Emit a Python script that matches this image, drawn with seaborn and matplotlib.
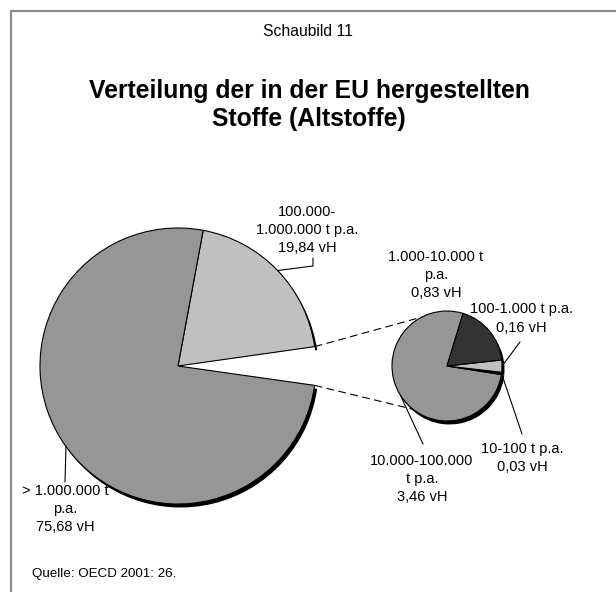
import numpy as np
import matplotlib
matplotlib.use("Agg")
import matplotlib.pyplot as plt
import seaborn as sns

# ---- data ----
main_labels = ["100.000-\n1.000.000 t p.a.\n19,84 vH", "> 1.000.000 t\np.a.\n75,68 vH", "Rest"]
main_values = [19.84, 75.68, 4.48]
main_colors = ["#c0c0c0", "#969696", "white"]

sub_labels = ["10.000-100.000\nt p.a.\n3,46 vH", "10-100 t p.a.\n0,03 vH",
              "100-1.000 t p.a.\n0,16 vH", "1.000-10.000 t\np.a.\n0,83 vH"]
sub_values = [3.46, 0.03, 0.16, 0.83]
sub_colors = ["#969696", "#000000", "#c0c0c0", "#333333"]

title_top = "Schaubild 11"
title_main = "Verteilung der in der EU hergestellten\nStoffe (Altstoffe)"
source = "Quelle: OECD 2001: 26."

W, H = 616, 592
sns.set_theme(style="white")
plt.rcParams['font.family'] = ['Liberation Sans', 'DejaVu Sans']
plt.rcParams['text.color'] = 'black'

fig = plt.figure(figsize=(W / 100, H / 100), dpi=100)
ax = fig.add_axes([0, 0, 1, 1])

def Y(y):
    return H - y

main_c = (178, Y(366)); main_r = 138
sub_c = (447, Y(366)); sub_r = 55
main_start = main_values[2] / sum(main_values) * 360 / 2
sub_start = 73

shadow = (2.5, -3.5)
for (c, r, vals, cols, st, is_main) in [(main_c, main_r, main_values, main_colors, main_start, True),
                                        (sub_c, sub_r, sub_values, sub_colors, sub_start, False)]:
    sw, _ = ax.pie(vals, colors=["black"] * len(vals), startangle=st, radius=r,
                   center=(c[0] + shadow[0], c[1] + shadow[1]),
                   wedgeprops=dict(linewidth=0))
    for s in sw:
        s.set_zorder(1)
    if is_main:
        sw[2].set_visible(False)
    w, _ = ax.pie(vals, colors=cols, startangle=st, radius=r, center=c,
                  wedgeprops=dict(edgecolor="black", linewidth=0.8))
    for s in w:
        s.set_zorder(3)
    if is_main:
        w[2].set_edgecolor("none")
        w[2].set_zorder(2)

def arc_pt(c, r, ang):
    a = np.deg2rad(ang)
    return c[0] + r * np.cos(a), c[1] + r * np.sin(a)

def mid_angles(vals, st):
    tot = sum(vals)
    cum = np.cumsum([0] + list(vals))
    return [st + (cum[i] + cum[i + 1]) / 2 / tot * 360 for i in range(len(vals))]

mm = mid_angles(main_values, main_start)
sm = mid_angles(sub_values, sub_start)
fs = 10.5
ls = 1.4
lc = dict(color="black", linewidth=0.8, zorder=4)

# main labels
p = arc_pt(main_c, main_r, mm[0])
ax.plot([p[0], 313, 313], [p[1], Y(266), Y(258)], **lc)
ax.text(307, Y(230), main_labels[0], ha="center", va="center", fontsize=fs, linespacing=ls)
p = arc_pt(main_c, main_r, mm[1])
ax.plot([p[0], 65], [p[1], Y(482)], **lc)
ax.text(65, Y(509), main_labels[1], ha="center", va="center", fontsize=fs, linespacing=ls)

# sub labels
p = arc_pt(sub_c, sub_r, sm[0])
ax.plot([p[0], 423], [p[1], Y(444)], **lc)
ax.text(422, Y(479), sub_labels[0], ha="center", va="center", fontsize=fs, linespacing=ls)
p = arc_pt(sub_c, sub_r, sm[1])
ax.plot([p[0], 522], [p[1], Y(434)], **lc)
ax.text(522, Y(458), sub_labels[1], ha="center", va="center", fontsize=fs, linespacing=ls)
p = arc_pt(sub_c, sub_r, sm[2])
ax.plot([p[0], 520], [p[1], Y(342)], **lc)
ax.text(521, Y(318.5), sub_labels[2], ha="center", va="center", fontsize=fs, linespacing=ls)
ax.text(436, Y(275), sub_labels[3], ha="center", va="center", fontsize=fs, linespacing=ls)

# connector lines
for ang_main, ang_sub in [(main_start, 117), (-main_start, 232)]:
    a = arc_pt(main_c, main_r, ang_main)
    b = arc_pt(sub_c, sub_r, ang_sub)
    ax.plot([a[0], b[0]], [a[1], b[1]], color="black", linewidth=0.8, dashes=(7, 4), zorder=4)

# titles
ax.text(308, Y(32), title_top, ha="center", va="center", fontsize=11.3)
ax.text(309, Y(105), title_main, ha="center", va="center", fontsize=17.8,
        fontweight="bold", linespacing=1.18)
ax.text(32, Y(574), source, ha="left", va="center", fontsize=9.6)

# frame
ax.plot([11, 11, W + 5], [-5, Y(10.5), Y(10.5)], color="#8c8c8c", linewidth=1.6, clip_on=False)

ax.set_xlim(0, W)
ax.set_ylim(0, H)
ax.set_aspect("equal")
ax.axis("off")
fig.savefig("out.png", dpi=100)
